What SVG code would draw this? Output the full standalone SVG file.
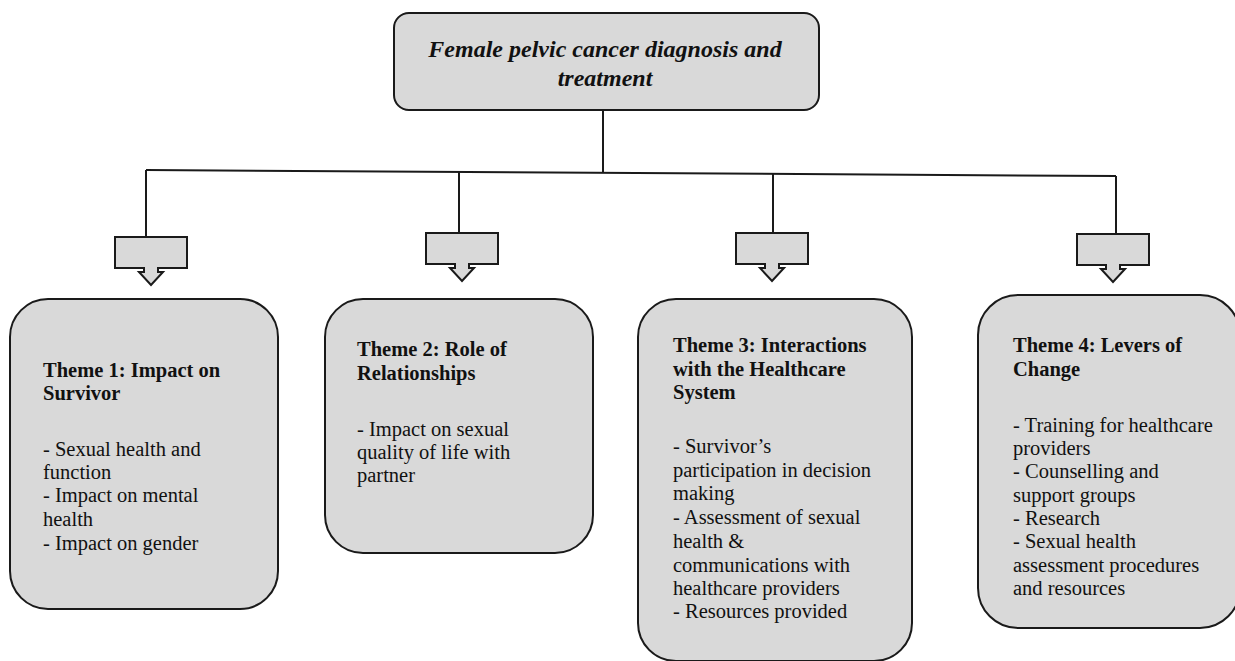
<svg xmlns="http://www.w3.org/2000/svg" xmlns:xlink="http://www.w3.org/1999/xlink" width="1235" height="661" viewBox="0 0 1235 661">
<style>
.box{fill:#d9d9d9;stroke:#1a1a1a;stroke-width:2}
.line{fill:none;stroke:#1a1a1a;stroke-width:2}
.title{font-family:"Liberation Serif","Times New Roman",serif;font-size:24px;font-weight:bold;font-style:italic;fill:#111;text-anchor:middle}
.th{font-family:"Liberation Serif","Times New Roman",serif;font-size:20.5px;font-weight:bold;fill:#111}
.tx{font-family:"Liberation Serif","Times New Roman",serif;font-size:20.5px;fill:#111}
</style>
<defs>
<path id="callout" d="M0,0 H72 V31 H43 V35 H48 L36,48 L24,35 H29 V31 H0 Z"/>
</defs>
<rect width="1235" height="661" fill="#fff"/>
<g id="connectors">
<path class="line" d="M603,110 V173"/>
<path class="line" d="M146,170 L1116,176"/>
<path class="line" d="M146,170 V237"/>
<path class="line" d="M459,172 V233"/>
<path class="line" d="M773,174 V233"/>
<path class="line" d="M1116,176 V234"/>
<use xlink:href="#callout" href="#callout" class="box" x="115" y="237"/>
<use xlink:href="#callout" href="#callout" class="box" x="426" y="233"/>
<use xlink:href="#callout" href="#callout" class="box" x="736" y="233"/>
<use xlink:href="#callout" href="#callout" class="box" x="1077" y="234"/>
</g>
<g id="root">
<rect class="box" x="394" y="13" width="425" height="97" rx="15"/>
<text class="title" x="605" y="57">Female pelvic cancer diagnosis and</text>
<text class="title" x="605" y="86">treatment</text>
</g>
<g id="theme1">
<rect class="box" x="10" y="299" width="268" height="310" rx="38"/>
<text class="th" x="43" y="377">Theme 1: Impact on</text>
<text class="th" x="43" y="400">Survivor</text>
<text class="tx" x="43" y="456">- Sexual health and</text>
<text class="tx" x="43" y="479">function</text>
<text class="tx" x="43" y="502">- Impact on mental</text>
<text class="tx" x="43" y="526">health</text>
<text class="tx" x="43" y="550">- Impact on gender</text>
</g>
<g id="theme2">
<rect class="box" x="325" y="299" width="268" height="254" rx="38"/>
<text class="th" x="357" y="356">Theme 2: Role of</text>
<text class="th" x="357" y="380">Relationships</text>
<text class="tx" x="357" y="436">- Impact on sexual</text>
<text class="tx" x="357" y="459">quality of life with</text>
<text class="tx" x="357" y="482">partner</text>
</g>
<g id="theme3">
<rect class="box" x="638" y="299" width="274" height="362" rx="38"/>
<text class="th" x="673" y="352">Theme 3: Interactions</text>
<text class="th" x="673" y="376">with the Healthcare</text>
<text class="th" x="673" y="399">System</text>
<text class="tx" x="673" y="453">- Survivor’s</text>
<text class="tx" x="673" y="477">participation in decision</text>
<text class="tx" x="673" y="500">making</text>
<text class="tx" x="673" y="524">- Assessment of sexual</text>
<text class="tx" x="673" y="548">health &amp;</text>
<text class="tx" x="673" y="572">communications with</text>
<text class="tx" x="673" y="595">healthcare providers</text>
<text class="tx" x="673" y="618">- Resources provided</text>
</g>
<g id="theme4">
<rect class="box" x="978" y="295" width="262" height="333" rx="40"/>
<text class="th" x="1013" y="352">Theme 4: Levers of</text>
<text class="th" x="1013" y="376">Change</text>
<text class="tx" x="1013" y="432">- Training for healthcare</text>
<text class="tx" x="1013" y="455">providers</text>
<text class="tx" x="1013" y="478">- Counselling and</text>
<text class="tx" x="1013" y="502">support groups</text>
<text class="tx" x="1013" y="525">- Research</text>
<text class="tx" x="1013" y="548">- Sexual health</text>
<text class="tx" x="1013" y="572">assessment procedures</text>
<text class="tx" x="1013" y="595">and resources</text>
</g>
</svg>
